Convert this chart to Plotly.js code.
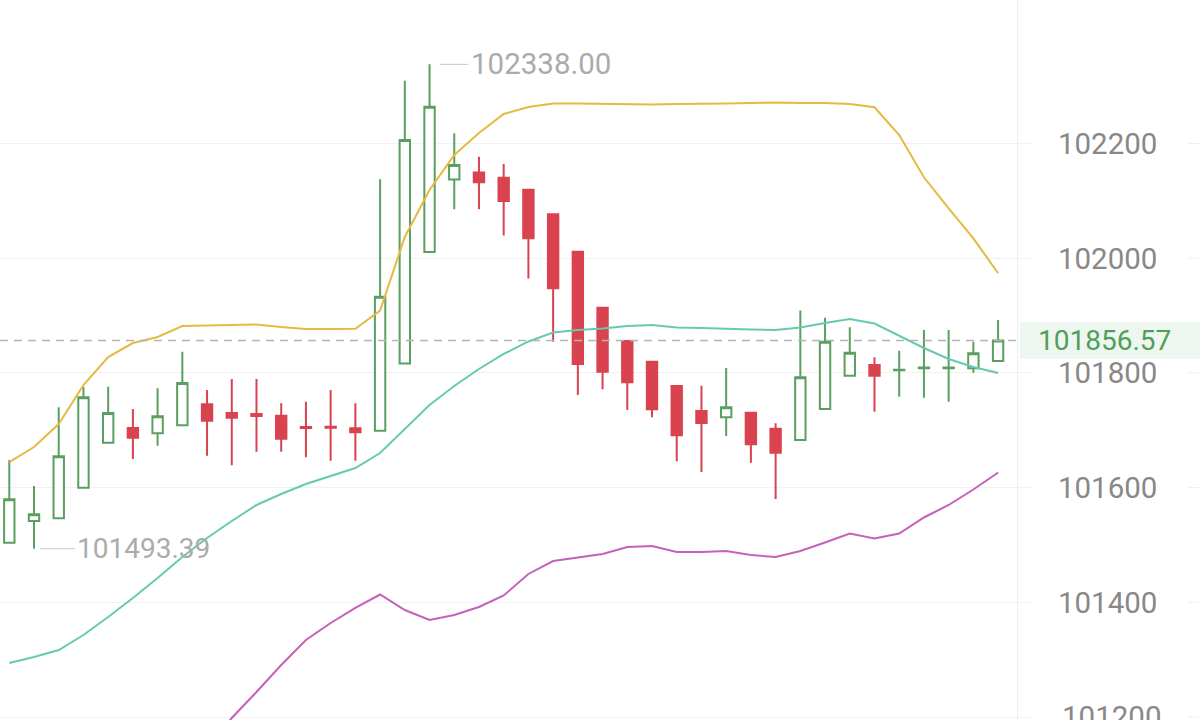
<!DOCTYPE html>
<html>
<head>
<meta charset="utf-8">
<script src="https://cdn.plot.ly/plotly-3.0.1.min.js"></script>
<style>html,body{margin:0;padding:0;background:#fff;}#chart{width:1200px;height:720px;}</style>
</head>
<body>
<div id="chart"></div>
<script>
// ---- data ----
const openP  = [101503.9,101541.8,101546.5,101599.8,101678.3,101703.9,101694.7,101708.6,101745.3,101730.1,101728.3,101725.4,101705.7,101706.0,101703.4,101699.2,101816.4,102010.8,102137.2,102149.4,102140.4,102119.4,102076.7,102011.3,101913.7,101855.6,101819.5,101777.2,101733.6,101722.6,101730.6,101702.7,101683.0,101737.1,101795.1,101813.8,101804.5,101808.0,101808.0,101808.0,101820.8];
const highP  = [101648.1,101602.8,101740.0,101775.9,101775.9,101737.1,101773.2,101837.0,101770.2,101789.4,101789.4,101747.0,101749.8,101770.2,101747.0,102137.6,102309.5,102338.0,102217.8,102177.0,102164.3,102119.9,102077.2,102011.8,101914.2,101856.1,101820.0,101777.7,101777.7,101808.6,101731.1,101712.1,101908.8,101896.3,101879.5,101827.2,101838.7,101874.8,101874.8,101854.4,101892.2];
const lowP   = [101503.0,101493.39,101545.0,101599.0,101677.5,101649.9,101673.1,101708.0,101655.6,101638.9,101662.6,101662.6,101652.8,101646.9,101646.9,101698.5,101815.8,102010.2,102085.3,102085.3,102039.6,101964.6,101854.4,101761.5,101771.4,101735.3,101722.6,101645.9,101627.2,101690.0,101643.4,101580.1,101682.5,101736.6,101794.6,101732.4,101758.5,101756.8,101749.8,101800.4,101820.3];
const closeP = [101579.6,101553.4,101654.6,101757.5,101730.1,101687.0,101724.3,101782.4,101716.7,101721.9,101724.9,101685.3,101703.9,101704.2,101696.4,101932.9,102206.1,102264.2,102162.5,102132.4,102099.7,102034.7,101947.5,101815.5,101802.1,101783.6,101736.5,101691.2,101712.6,101740.0,101675.5,101660.9,101792.3,101854.4,101835.2,101795.1,101805.6,101809.4,101809.4,101834.2,101856.57];
const bollUpper = [101644.6,101670.8,101710.9,101778.9,101827.7,101852.1,101862.6,101881.8,101882.7,101883.5,101884.4,101880.0,101876.6,101876.6,101877.1,101908.8,102037.0,102118.9,102180.0,102218.3,102251.4,102263.7,102269.8,102269.8,102268.9,102268.0,102268.0,102268.9,102268.9,102269.8,102270.6,102271.5,102270.6,102270.6,102268.9,102263.1,102214.8,102141.1,102087.0,102034.7,101973.7];
const bollMid   = [101294.2,101304.6,101316.8,101343.0,101374.4,101407.5,101442.4,101479.0,101512.1,101541.8,101569.7,101588.8,101606.3,101620.2,101634.2,101660.3,101702.2,101744.0,101777.2,101806.8,101833.0,101854.8,101870.5,101874.8,101877.4,101881.8,101883.5,101879.2,101878.3,101876.6,101875.7,101874.8,101879.2,101887.0,101894.0,101886.1,101865.2,101843.4,101824.2,101810.3,101799.8];
const bollLower = [100943.7,100938.5,100922.8,100907.1,100921.0,100962.9,101022.2,101076.2,101142.5,101198.3,101243.6,101290.7,101334.3,101363.9,101390.1,101413.6,101386.6,101369.1,101377.9,101391.8,101411.9,101449.4,101472.0,101478.1,101484.2,101496.4,101498.2,101487.7,101487.7,101489.5,101482.5,101479.0,101489.5,101504.3,101520.0,101511.3,101520.0,101547.9,101569.7,101596.7,101626.3];
const yTicks = [101200,101400,101600,101800,102000,102200];
const yTickText = ['101200','101400','101600','101800','102000','102200'];
const maxLabel = {idx:17, value:102338.00, text:'102338.00'};
const minLabel = {idx:1, value:101493.39, text:'101493.39'};
const lastPrice = 101856.57;
const lastPriceText = '101856.57';

// ---- styles ----
const GREEN = '#5a9f60';
const RED = '#d9434f';
const AXIS_FONT = {family: 'Roboto', size: 29.5, color: '#888888'};
const idx = closeP.map((_, i) => i);
const W = 1200, PLOT_R = 1017;
const px2paper = p => p / PLOT_R;

const traces = [
  {
    type: 'candlestick', x: idx, open: openP, high: highP, low: lowP, close: closeP,
    increasing: {line: {color: GREEN, width: 2}, fillcolor: '#ffffff'},
    decreasing: {line: {color: RED, width: 2}, fillcolor: RED},
    whiskerwidth: 0, hoverinfo: 'skip', showlegend: false
  },
  {type: 'scatter', mode: 'lines', x: idx, y: bollUpper, line: {color: '#e6b940', width: 2}, hoverinfo: 'skip', showlegend: false},
  {type: 'scatter', mode: 'lines', x: idx, y: bollMid, line: {color: '#66c9b2', width: 2}, hoverinfo: 'skip', showlegend: false},
  {type: 'scatter', mode: 'lines', x: idx, y: bollLower, line: {color: '#c660b9', width: 2}, hoverinfo: 'skip', showlegend: false}
];

const shapes = [
  {type: 'line', xref: 'paper', yref: 'y', x0: 0, x1: 1, y0: lastPrice, y1: lastPrice,
   line: {color: '#b4b4b4', width: 1.5, dash: '8px,6px'}, layer: 'above'},
  {type: 'rect', xref: 'paper', yref: 'y', x0: px2paper(1020), x1: px2paper(W), y0: lastPrice - 32, y1: lastPrice + 32,
   fillcolor: '#eef7ef', line: {width: 0}, layer: 'below'}
];
yTicks.forEach(v => shapes.push({type: 'line', xref: 'paper', yref: 'y', x0: px2paper(1188), x1: px2paper(W), y0: v, y1: v,
  line: {color: '#f0f0f0', width: 1}, layer: 'below'}));

const annotations = [
  {x: maxLabel.idx, y: maxLabel.value, xref: 'x', yref: 'y', text: maxLabel.text, showarrow: true, arrowhead: 0,
   arrowwidth: 1, arrowcolor: '#c8c8c8', ax: 39, ay: 0, standoff: 10, xanchor: 'left',
   font: {family: 'Roboto', size: 29.5, color: '#ababab'}},
  {x: minLabel.idx, y: minLabel.value, xref: 'x', yref: 'y', text: minLabel.text, showarrow: true, arrowhead: 0,
   arrowwidth: 1, arrowcolor: '#c8c8c8', ax: 41, ay: 0, standoff: 6, xanchor: 'left',
   font: {family: 'Roboto', size: 28, color: '#ababab'}},
  {x: 1, y: lastPrice, xref: 'paper', yref: 'y', text: lastPriceText, showarrow: false, xanchor: 'right', yanchor: 'middle',
   xshift: 1173 - PLOT_R, font: {family: 'Roboto', size: 28, color: '#4f9f5a'}},
  // lowest tick label sits on the lower edge and is cut by it, as in the reference
  {x: 1, y: yTicks[0], xref: 'paper', yref: 'y', text: yTickText[0], showarrow: false, xanchor: 'left', yanchor: 'middle',
   xshift: 1061 - PLOT_R - 1, font: AXIS_FONT}
];

const layout = {
  width: 1200, height: 720,
  margin: {l: 0, r: W - PLOT_R, t: 0, b: 0, pad: 0},
  paper_bgcolor: '#ffffff', plot_bgcolor: '#ffffff',
  showlegend: false, boxgap: 0.4, dragmode: false,
  xaxis: {range: [-0.376, 40.765], showgrid: false, zeroline: false, showticklabels: false, ticks: '',
          rangeslider: {visible: false}, fixedrange: true},
  yaxis: {side: 'right', range: [101194.8, 102450.2], tickvals: yTicks, ticktext: ['', ...yTickText.slice(1)],
          showgrid: true, gridcolor: '#f1f1f1', gridwidth: 1, zeroline: false,
          showline: true, linecolor: '#eeeeee', linewidth: 1,
          ticks: 'outside', ticklen: 13, tickcolor: '#f0f0f0', ticklabelstandoff: 21,
          tickfont: AXIS_FONT, fixedrange: true},
  shapes: shapes, annotations: annotations
};

Plotly.newPlot('chart', traces, layout, {displayModeBar: false, staticPlot: true});
</script>
</body>
</html>
